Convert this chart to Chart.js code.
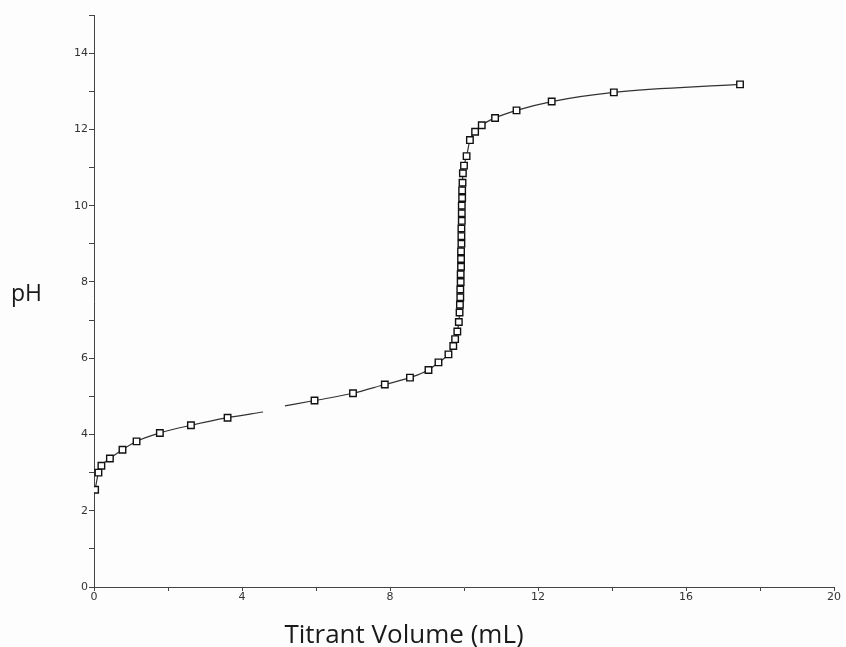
<!DOCTYPE html>
<html>
<head>
<meta charset="utf-8">
<script src="https://cdn.jsdelivr.net/npm/chart.js@4.4.1/dist/chart.umd.min.js"></script>
<style>
  html, body { margin: 0; padding: 0; background: #fdfdfd; }
  #wrap { width: 846px; height: 647px; }
</style>
</head>
<body>
<div id="wrap"><canvas id="titration" width="846" height="647"></canvas></div>
<script>
// Titration curve - pH vs titrant volume
const volume = [0.03, 0.12, 0.2, 0.43, 0.77, 1.15, 1.78, 2.62, 3.61, 4.57, 4.9, 5.16, 5.96, 7.0, 7.86, 8.54, 9.04, 9.31, 9.58, 9.71, 9.76,
  9.82, 9.86, 9.88, 9.89, 9.9, 9.9, 9.91, 9.91, 9.92, 9.92, 9.92, 9.93, 9.93, 9.93, 9.94, 9.94, 9.94, 9.95, 9.95, 9.96, 9.97,
  10.0, 10.07, 10.16, 10.3, 10.48, 10.84, 11.42, 12.37, 14.05, 17.46];
const pH = [2.55, 3.0, 3.18, 3.37, 3.6, 3.82, 4.04, 4.24, 4.44, 4.59, null, 4.75, 4.89, 5.08, 5.31, 5.49, 5.69, 5.89, 6.1, 6.32, 6.5,
  6.7, 6.95, 7.2, 7.4, 7.6, 7.8, 8.0, 8.2, 8.4, 8.6, 8.8, 9.0, 9.2, 9.4, 9.6, 9.8, 10.0, 10.2, 10.4, 10.6, 10.85,
  11.05, 11.3, 11.72, 11.94, 12.11, 12.3, 12.5, 12.73, 12.97, 13.18];
// line ends around the gap have no marker
const unmarked = [9, 11];

const yTicks = [0, 2, 4, 6, 8, 10, 12, 14];
const xTicks = [0, 4, 8, 12, 16, 20];

const points = volume.map((v, i) => ({ x: v, y: pH[i] }));

const tickFont = { family: 'DejaVu Sans', size: 11 };

// axis titles: "pH" sits horizontal on the left, x title is off-centre
const axisTitles = {
  id: 'axisTitles',
  afterDraw(chart) {
    const c = chart.ctx;
    c.save();
    c.fillStyle = '#1a1a1a';
    c.textBaseline = 'alphabetic';
    c.font = '23px "Open Sans"';
    c.textAlign = 'left';
    c.fillText('pH', 11, 301);
    c.font = '26px "Open Sans"';
    c.textAlign = 'center';
    c.fillText('Titrant Volume (mL)', 404, 643);
    c.restore();
  }
};

const ctx = document.getElementById('titration').getContext('2d');
const titrationChart = new Chart(ctx, {
  type: 'line',
  data: {
    datasets: [{
      data: points,
      borderColor: '#333',
      borderWidth: 1.2,
      cubicInterpolationMode: 'monotone',
      spanGaps: false,
      pointStyle: 'rect',
      pointRadius: (c) => unmarked.includes(c.dataIndex) ? 0 : 4.6,
      pointBackgroundColor: '#fff',
      pointBorderColor: '#111',
      pointBorderWidth: 1.4,
      fill: false
    }]
  },
  options: {
    responsive: false,
    animation: false,
    layout: { padding: { top: 15, right: 12, bottom: 0, left: 0 } },
    plugins: {
      legend: { display: false },
      tooltip: { enabled: false }
    },
    scales: {
      x: {
        type: 'linear',
        min: 0,
        max: 20,
        border: { color: '#444', width: 1 },
        grid: { drawOnChartArea: false, tickLength: 4, color: '#444' },
        ticks: {
          stepSize: 2,
          font: tickFont,
          color: '#333',
          padding: 0,
          maxRotation: 0,
          callback: (v) => xTicks.includes(v) ? v : ''
        },
        afterFit: (s) => { s.height = 60; }
      },
      y: {
        min: 0,
        max: 15,
        border: { color: '#444', width: 1 },
        grid: { drawOnChartArea: false, tickLength: 5, color: '#444' },
        ticks: {
          stepSize: 1,
          font: tickFont,
          color: '#333',
          padding: 1,
          callback: (v) => yTicks.includes(v) ? v : ''
        },
        afterFit: (s) => { s.width = 94; }
      }
    }
  },
  plugins: [axisTitles]
});
</script>
</body>
</html>
